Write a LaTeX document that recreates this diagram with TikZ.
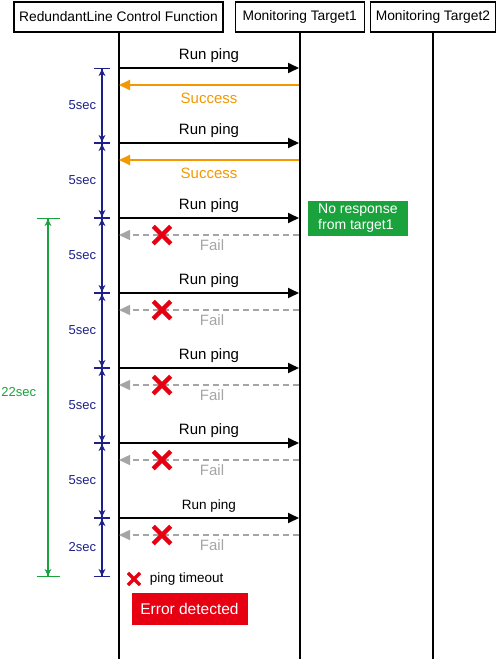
\documentclass[tikz,border=0pt]{standalone}
\usepackage{fontspec}
\setmainfont{Liberation Sans}
\usetikzlibrary{positioning, arrows.meta, shapes.misc}
\definecolor{navy}{RGB}{29,32,136}
\definecolor{okorange}{RGB}{243,152,0}
\definecolor{failgray}{RGB}{165,165,165}
\definecolor{errred}{RGB}{230,0,18}
\definecolor{notegreen}{RGB}{26,163,60}

\begin{document}
\begin{tikzpicture}[
  x=1pt, y=-1pt,
  hdr/.style={rectangle, draw, line width=1.2pt, minimum height=30pt, inner sep=0pt, font=\fontsize{13.8}{16}\selectfont},
  life/.style={line width=2pt},
  msg/.style={line width=1.8pt, -{Triangle[length=11pt, width=10pt]}},
  okmsg/.style={msg, draw=okorange},
  failmsg/.style={msg, draw=failgray, line width=1.5pt, dash pattern=on 6pt off 4pt},
  lab/.style={midway, anchor=base, inner sep=0pt, font=\fontsize{15}{18}\selectfont},
  dim/.style={line width=1.8pt, {Bar[width=#1, line width=1.1pt]Stealth[length=7pt, width=7pt]}-{Stealth[length=7pt, width=7pt]Bar[width=#1, line width=1.1pt]}},
  dim/.default=16pt,
  dimlab/.style={midway, left=5pt, inner sep=0pt, font=\fontsize{13}{15}\selectfont},
  failx/.style={cross out, draw=errred, line width=4.5pt, minimum size=13pt, inner sep=0pt},
  note/.style={rectangle, fill=#1, text=white, inner sep=0pt, font=\fontsize{14}{16}\selectfont}
]
\useasboundingbox (0,0) rectangle (499,659);
\coordinate (bottom) at (0,659);

\node[hdr, minimum width=209pt] (rlcf) at (118.5,17) {RedundantLine Control Function};
\node[hdr, minimum width=129pt, right=11pt of rlcf] (tgt1) {Monitoring Target1};
\node[hdr, minimum width=125pt, right=5pt of tgt1] (tgt2) {Monitoring Target2};
\draw[life] (rlcf.south) -- (rlcf.south |- bottom);
\draw[life] (tgt1.south) -- (tgt1.south |- bottom);
\draw[life] (tgt2.south) -- (tgt2.south |- bottom);

\foreach \i/\fs in {0/15,1/15,2/15,3/15,4/15,5/15,6/13.5} {
  \pgfmathsetmacro\ya{68+75*\i}
  \pgfmathsetmacro\yb{\ya+17}
  \coordinate (src\i) at (119,\ya);
  \coordinate (dst\i) at (299,\ya);
  \coordinate (srcr\i) at (119,\yb);
  \coordinate (dstr\i) at (299,\yb);
  \coordinate (tick\i) at (102,\ya);
  \draw[msg] (src\i) -- node[lab, yshift=9pt, font=\fontsize{\fs}{18}\selectfont] {Run ping} (dst\i);
  \ifnum\i<2
    \draw[okmsg] (dstr\i) -- node[lab, yshift=-18pt, text=okorange] {Success} (srcr\i);
  \else
    \draw[failmsg] (dstr\i) -- node[lab, yshift=-15pt, xshift=3pt, text=failgray] {Fail} (srcr\i);
    \node[failx] (cross\i) at (162,\yb) {};
  \fi
}
\coordinate (tick7) at (102,577);

\foreach \i/\j/\t in {0/1/5sec,1/2/5sec,2/3/5sec,3/4/5sec,4/5/5sec,5/6/5sec,6/7/2sec}
  \draw[dim, draw=navy] (tick\i) -- node[dimlab, text=navy] {\t} (tick\j);

\coordinate (gtop) at (48,218);
\coordinate (gbot) at (48,577);
\draw[dim=23pt, draw=notegreen] (gtop) -- node[dimlab, pos=0.485, left=11pt, text=notegreen] {22sec} (gbot);

\node[note=notegreen, align=left, inner xsep=10pt, minimum height=35pt, right=9pt of dst2] (noresp) {No response\\from target1};

\node[failx, line width=3.2pt, minimum size=9pt] (legx) at (134,579) {};
\node[inner sep=0pt, right=9.5pt of legx, font=\fontsize{13.5}{16}\selectfont] (legtxt) {ping timeout};
\node[note=errred, minimum width=116pt, minimum height=32pt, font=\fontsize{15.5}{18}\selectfont] (errdet) at (189.5,609) {Error detected};
\end{tikzpicture}
\end{document}
